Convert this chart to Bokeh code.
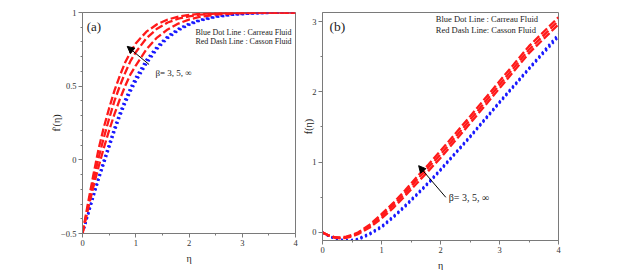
from bokeh.plotting import figure
from bokeh.models import Range1d, Arrow, NormalHead, Label, FixedTicker
from bokeh.layouts import row
from bokeh.embed import file_html
from bokeh.resources import INLINE

# ---------------- data ----------------
eta_a = [0, 0.1, 0.2, 0.3, 0.4, 0.5, 0.6, 0.7, 0.8, 0.9, 1.0, 1.2, 1.4, 1.6, 1.8, 2.0, 2.2, 2.5, 2.8, 3.2, 3.6, 4.0]
casson_fp_b3 = [-0.5, -0.30, -0.11, 0.07, 0.22, 0.35, 0.47, 0.57, 0.66, 0.73, 0.79, 0.87, 0.92, 0.952, 0.972, 0.984, 0.99, 0.996, 0.999, 1.0, 1.0, 1.0]
casson_fp_b5 = [-0.5, -0.32, -0.15, 0.01, 0.15, 0.28, 0.40, 0.50, 0.59, 0.67, 0.73, 0.825, 0.89, 0.932, 0.958, 0.974, 0.985, 0.993, 0.997, 0.999, 1.0, 1.0]
casson_fp_binf = [-0.5, -0.34, -0.19, -0.05, 0.08, 0.20, 0.31, 0.41, 0.50, 0.58, 0.64, 0.75, 0.83, 0.885, 0.925, 0.952, 0.97, 0.985, 0.993, 0.998, 1.0, 1.0]
carreau_fp_b3 = [-0.5, -0.37, -0.24, -0.12, 0.0, 0.11, 0.22, 0.32, 0.41, 0.49, 0.56, 0.68, 0.77, 0.84, 0.89, 0.925, 0.95, 0.973, 0.986, 0.995, 0.998, 1.0]
carreau_fp_b5 = [-0.5, -0.375, -0.25, -0.13, -0.015, 0.095, 0.205, 0.305, 0.395, 0.475, 0.545, 0.665, 0.76, 0.833, 0.884, 0.92, 0.947, 0.971, 0.985, 0.994, 0.998, 1.0]
carreau_fp_binf = [-0.5, -0.38, -0.26, -0.14, -0.03, 0.08, 0.19, 0.29, 0.38, 0.46, 0.53, 0.65, 0.75, 0.825, 0.877, 0.915, 0.943, 0.968, 0.983, 0.993, 0.998, 1.0]

eta_b = [0, 0.1, 0.2, 0.3, 0.4, 0.5, 0.6, 0.8, 1.0, 1.2, 1.4, 1.6, 1.8, 2.0, 2.5, 3.0, 3.5, 4.0]
casson_f_b3 = [0, -0.04, -0.065, -0.07, -0.06, -0.035, 0.0, 0.11, 0.26, 0.42, 0.60, 0.79, 0.97, 1.16, 1.65, 2.15, 2.65, 3.06]
casson_f_b5 = [0, -0.04, -0.068, -0.077, -0.068, -0.045, -0.012, 0.09, 0.23, 0.39, 0.56, 0.75, 0.93, 1.11, 1.60, 2.10, 2.60, 3.01]
casson_f_binf = [0, -0.042, -0.072, -0.083, -0.076, -0.055, -0.024, 0.07, 0.20, 0.35, 0.52, 0.70, 0.88, 1.06, 1.55, 2.05, 2.55, 2.96]
carreau_f_b3 = [0, -0.045, -0.08, -0.1, -0.108, -0.105, -0.09, -0.01, 0.09, 0.23, 0.385, 0.55, 0.72, 0.90, 1.37, 1.86, 2.34, 2.82]
carreau_f_b5 = [0, -0.046, -0.082, -0.104, -0.113, -0.111, -0.097, -0.02, 0.08, 0.22, 0.375, 0.54, 0.71, 0.89, 1.36, 1.85, 2.33, 2.80]
carreau_f_binf = [0, -0.047, -0.084, -0.108, -0.118, -0.117, -0.104, -0.03, 0.07, 0.21, 0.365, 0.53, 0.70, 0.88, 1.35, 1.84, 2.32, 2.78]

x_ticks = [0, 1, 2, 3, 4]
ya_ticks = [-0.5, 0, 0.5, 1]
yb_ticks = [0, 1, 2, 3]

SERIF = "Liberation Serif"
RED = "#ff1a1a"
BLUE = "#1a1aff"
AX = "#7a7a7a"


def style(p, yticks, yminor):
    p.xgrid.visible = False
    p.ygrid.visible = False
    p.outline_line_color = AX
    p.outline_line_width = 1
    p.xaxis.ticker = FixedTicker(ticks=x_ticks, minor_ticks=[0.5, 1.5, 2.5, 3.5])
    p.yaxis.ticker = FixedTicker(ticks=yticks, minor_ticks=yminor)
    for ax in (p.xaxis[0], p.yaxis[0]):
        ax.axis_line_color = AX
        ax.major_tick_line_color = AX
        ax.minor_tick_line_color = AX
        ax.major_tick_in = 0
        ax.major_tick_out = 4
        ax.minor_tick_in = 0
        ax.minor_tick_out = 2
        ax.major_label_text_font = SERIF
        ax.major_label_text_font_size = "8.5px"
        ax.major_label_text_color = "#333333"
        ax.major_label_standoff = 2
        ax.axis_label_text_font = SERIF
        ax.axis_label_text_font_size = "10px"
        ax.axis_label_text_font_style = "normal"
        ax.axis_label_text_color = "#222222"


def draw(p, x, blues, reds):
    for ys in blues:
        p.line(x, ys, line_color=BLUE, line_width=2.3, line_dash="2 3")
    for ys in reds:
        p.line(x, ys, line_color=RED, line_width=2.3, line_dash="8 3")


# ---------------- panel (a) ----------------
pa = figure(frame_width=213, frame_height=221, output_backend="svg", toolbar_location=None,
            x_range=Range1d(0, 4), y_range=Range1d(-0.5, 1),
            min_border_left=82, min_border_right=5, min_border_top=12, min_border_bottom=36)
style(pa, ya_ticks, [-0.4, -0.3, -0.2, -0.1, 0.1, 0.2, 0.3, 0.4, 0.6, 0.7, 0.8, 0.9])
pa.xaxis.axis_label = "η"
pa.yaxis.axis_label = "f'(η)"
pa.xaxis.axis_label_standoff = 4
pa.yaxis.axis_label_standoff = -4

draw(pa, eta_a, (carreau_fp_b3, carreau_fp_b5, carreau_fp_binf),
     (casson_fp_b3, casson_fp_b5, casson_fp_binf))

pa.add_layout(Label(x=0.08, y=0.905, text="(a)", text_font=SERIF, text_font_size="13px",
                    text_baseline="middle", text_color="#222222"))
pa.add_layout(Label(x=2.12, y=0.862, text="Blue Dot Line : Carreau Fluid", text_font=SERIF,
                    text_font_size="8px", text_baseline="middle", text_color="#222222"))
pa.add_layout(Label(x=2.12, y=0.801, text="Red Dash Line : Casson  Fluid", text_font=SERIF,
                    text_font_size="8px", text_baseline="middle", text_color="#222222"))
pa.add_layout(Arrow(x_start=1.25, y_start=0.647, x_end=0.84, y_end=0.77, line_color="black", line_width=1,
                    end=NormalHead(size=7, fill_color="black", line_color="black")))
pa.add_layout(Label(x=1.37, y=0.59, text="β= 3, 5, ∞", text_font=SERIF, text_font_size="9px",
                    text_baseline="middle", text_color="#222222"))

# ---------------- panel (b) ----------------
pb = figure(frame_width=236, frame_height=228, output_backend="svg", toolbar_location=None,
            x_range=Range1d(0, 4), y_range=Range1d(-0.114, 3.128),
            min_border_left=22, min_border_right=60, min_border_top=9, min_border_bottom=32)
style(pb, yb_ticks, [0.5, 1.5, 2.5])
pb.xaxis.axis_label = "η"
pb.yaxis.axis_label = "f(η)"
pb.xaxis.axis_label_standoff = 4
pb.yaxis.axis_label_standoff = -5

draw(pb, eta_b, (carreau_f_b3, carreau_f_b5, carreau_f_binf),
     (casson_f_b3, casson_f_b5, casson_f_binf))

pb.add_layout(Label(x=0.12, y=2.93, text="(b)", text_font=SERIF, text_font_size="13.5px",
                    text_baseline="middle", text_color="#222222"))
pb.add_layout(Label(x=1.92, y=3.03, text="Blue Dot Line : Carreau Fluid", text_font=SERIF,
                    text_font_size="8.5px", text_baseline="middle", text_color="#222222"))
pb.add_layout(Label(x=1.92, y=2.885, text="Red Dash Line: Casson  Fluid", text_font=SERIF,
                    text_font_size="8.5px", text_baseline="middle", text_color="#222222"))
pb.add_layout(Arrow(x_start=2.09, y_start=0.50, x_end=1.63, y_end=0.95, line_color="black", line_width=1,
                    end=NormalHead(size=7, fill_color="black", line_color="black")))
pb.add_layout(Label(x=2.14, y=0.50, text="β= 3, 5, ∞", text_font=SERIF, text_font_size="10px",
                    text_baseline="middle", text_color="#222222"))

layout = row(pa, pb)
open("out.html", "w").write(file_html(layout, INLINE))
